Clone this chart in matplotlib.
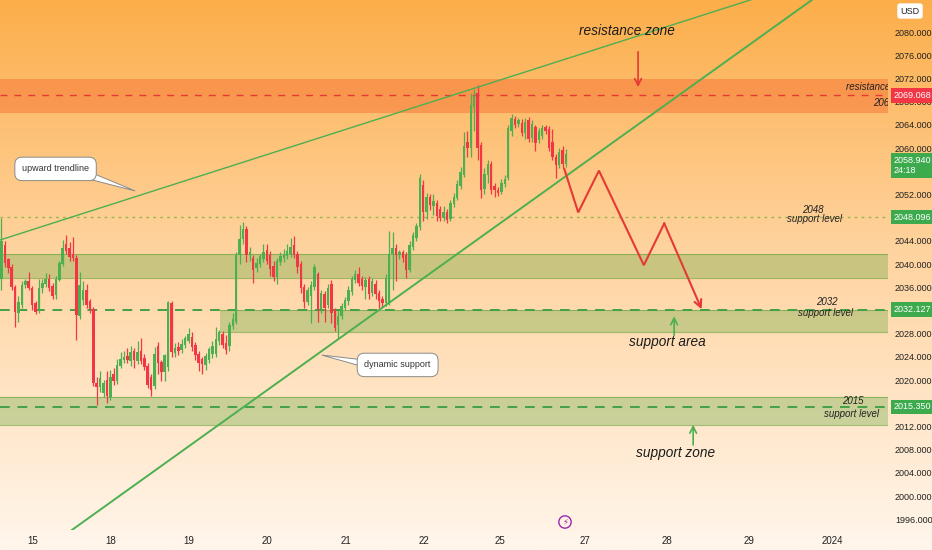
import numpy as np
import matplotlib
matplotlib.use("Agg")
import matplotlib.pyplot as plt
from matplotlib.colors import LinearSegmentedColormap
from matplotlib.patches import Polygon
import matplotlib.transforms as mtransforms

plt.rcParams['font.family'] = ['Liberation Sans', 'DejaVu Sans']

# XAUUSD 1h candles
opens = [2037.5, 2043.3, 2040.8, 2039.5, 2036.0, 2031.5, 2033.0, 2036.4, 2037.0, 2035.9,
         2033.2, 2032.0, 2035.8, 2036.6, 2037.5, 2036.2, 2034.6, 2037.3, 2040.0, 2043.5,
         2042.7, 2041.8, 2041.0, 2031.0, 2033.8, 2035.5, 2033.6, 2032.3, 2019.5, 2018.8,
         2017.8, 2020.0, 2017.0, 2021.0, 2019.8, 2022.4, 2023.4, 2024.2, 2023.3, 2025.0,
         2023.3, 2025.0, 2023.8, 2022.5, 2020.5, 2019.0, 2025.8, 2023.1, 2021.4, 2022.2,
         2033.3, 2024.6, 2025.7, 2025.1, 2026.0, 2026.8, 2027.5, 2026.0, 2024.5, 2023.6,
         2022.6, 2023.4, 2024.5, 2024.5, 2026.8, 2028.0, 2026.4, 2025.8, 2029.3, 2030.0,
         2041.5, 2044.3, 2046.0, 2041.5, 2041.0, 2039.3, 2040.0, 2040.8, 2042.5, 2041.5,
         2039.7, 2037.8, 2040.3, 2041.0, 2041.3, 2041.8, 2043.3, 2041.7, 2040.0, 2036.0,
         2033.4, 2034.5, 2036.0, 2038.2, 2032.2, 2034.8, 2033.0, 2036.5, 2032.0, 2029.5,
         2031.0, 2032.5, 2033.6, 2035.2, 2037.3, 2038.2, 2037.5, 2036.0, 2037.5, 2035.0,
         2036.6, 2035.0, 2034.0, 2033.2, 2033.3, 2041.8, 2042.8, 2041.5, 2042.0, 2041.5,
         2039.0, 2043.0, 2044.5, 2046.3, 2053.7, 2049.0, 2051.5, 2050.0, 2050.5, 2049.5,
         2048.0, 2049.0, 2047.8, 2050.3, 2051.4, 2053.4, 2055.4, 2061.0, 2060.0, 2067.0,
         2069.5, 2060.5, 2053.0, 2055.3, 2057.2, 2053.4, 2052.8, 2052.4, 2053.8, 2054.8,
         2063.0, 2065.0, 2064.2, 2064.3, 2062.6, 2064.8, 2061.8, 2063.6, 2061.4, 2062.0,
         2063.6, 2063.2, 2061.0, 2058.4, 2057.0, 2059.6, 2057.3]
highs = [2048.0, 2044.0, 2041.0, 2040.0, 2036.3, 2034.5, 2037.0, 2037.5, 2038.6, 2036.2,
         2033.6, 2037.5, 2037.5, 2038.5, 2038.3, 2036.7, 2038.0, 2040.6, 2044.1, 2045.0,
         2043.8, 2044.7, 2041.5, 2038.6, 2037.0, 2036.5, 2034.0, 2032.6, 2020.5, 2021.6,
         2020.0, 2021.5, 2021.7, 2022.0, 2023.7, 2024.8, 2025.0, 2025.5, 2025.8, 2025.5,
         2026.8, 2027.2, 2024.5, 2023.0, 2021.0, 2025.7, 2026.5, 2023.5, 2024.5, 2033.6,
         2033.6, 2026.4, 2026.5, 2027.0, 2027.6, 2029.0, 2028.2, 2026.5, 2025.0, 2024.0,
         2024.6, 2025.7, 2026.7, 2029.2, 2028.7, 2028.5, 2027.8, 2030.0, 2031.5, 2042.0,
         2046.7, 2047.3, 2046.5, 2043.0, 2041.6, 2041.0, 2041.8, 2043.5, 2043.5, 2042.2,
         2040.6, 2041.0, 2042.0, 2042.6, 2043.5, 2044.5, 2044.8, 2042.3, 2040.5, 2036.5,
         2036.0, 2037.0, 2040.0, 2038.6, 2035.5, 2035.3, 2036.5, 2037.2, 2032.5, 2032.0,
         2033.3, 2034.3, 2036.2, 2038.0, 2039.0, 2039.5, 2038.0, 2037.8, 2038.0, 2037.6,
         2037.3, 2035.5, 2034.4, 2038.2, 2045.7, 2045.5, 2043.5, 2042.5, 2042.5, 2042.0,
         2044.0, 2045.5, 2047.0, 2055.5, 2054.4, 2052.3, 2052.0, 2052.0, 2051.0, 2050.0,
         2050.0, 2049.5, 2051.0, 2052.2, 2054.5, 2056.8, 2062.8, 2063.0, 2069.5, 2070.2,
         2070.8, 2061.0, 2056.5, 2058.0, 2057.8, 2054.0, 2053.3, 2054.7, 2055.3, 2064.0,
         2065.8, 2065.5, 2065.2, 2065.0, 2065.2, 2065.3, 2064.8, 2064.0, 2063.5, 2064.0,
         2064.0, 2063.8, 2063.2, 2059.0, 2060.0, 2060.3, 2059.9]
lows = [2035.5, 2039.5, 2038.5, 2035.5, 2029.1, 2030.0, 2032.5, 2035.8, 2035.5, 2032.0,
        2031.3, 2031.5, 2035.0, 2036.0, 2035.3, 2034.0, 2034.0, 2037.0, 2039.7, 2041.8,
        2040.5, 2040.5, 2026.9, 2030.5, 2033.0, 2032.5, 2031.5, 2019.0, 2015.7, 2018.0,
        2017.0, 2016.0, 2016.5, 2019.2, 2019.3, 2022.0, 2022.9, 2022.9, 2022.5, 2022.0,
        2022.8, 2022.8, 2021.8, 2018.7, 2017.2, 2018.5, 2021.0, 2019.8, 2019.8, 2021.5,
        2024.0, 2024.0, 2024.3, 2024.6, 2025.5, 2026.3, 2025.0, 2023.5, 2021.5, 2021.0,
        2021.8, 2022.9, 2023.8, 2024.0, 2026.0, 2025.5, 2024.5, 2025.0, 2028.8, 2029.6,
        2040.0, 2043.5, 2040.3, 2040.5, 2036.7, 2038.6, 2039.5, 2040.3, 2040.0, 2038.0,
        2037.0, 2036.5, 2039.8, 2040.4, 2040.8, 2041.2, 2041.0, 2038.5, 2035.0, 2032.5,
        2033.0, 2029.8, 2035.5, 2030.0, 2031.5, 2030.0, 2032.5, 2029.8, 2028.5, 2027.3,
        2030.6, 2032.0, 2033.0, 2034.7, 2036.8, 2036.2, 2035.5, 2034.0, 2034.0, 2034.5,
        2034.0, 2032.4, 2032.5, 2032.8, 2033.0, 2035.5, 2037.0, 2040.8, 2040.3, 2037.6,
        2038.7, 2042.5, 2044.0, 2045.8, 2047.5, 2047.8, 2049.3, 2048.5, 2047.5, 2047.5,
        2047.4, 2047.0, 2047.5, 2049.8, 2051.0, 2053.0, 2055.0, 2058.5, 2058.5, 2063.0,
        2058.0, 2051.4, 2052.0, 2054.0, 2052.0, 2051.5, 2051.8, 2052.0, 2053.3, 2054.5,
        2062.0, 2063.5, 2063.6, 2062.0, 2061.5, 2061.0, 2061.0, 2059.5, 2060.8, 2061.5,
        2062.5, 2059.5, 2058.0, 2054.8, 2056.5, 2056.5, 2056.8]
closes = [2044.0, 2040.2, 2039.3, 2036.0, 2031.7, 2033.4, 2036.4, 2037.0, 2035.9, 2032.9,
          2031.8, 2035.8, 2036.8, 2037.5, 2035.8, 2034.5, 2037.5, 2040.2, 2042.8, 2042.3,
          2041.2, 2041.0, 2031.2, 2036.4, 2035.5, 2033.0, 2032.3, 2019.5, 2018.8, 2020.3,
          2019.4, 2017.2, 2020.6, 2019.8, 2022.6, 2023.6, 2024.0, 2023.4, 2024.9, 2023.5,
          2024.9, 2023.3, 2022.3, 2019.2, 2018.2, 2024.5, 2023.0, 2021.4, 2024.3, 2033.4,
          2024.8, 2025.5, 2025.0, 2026.2, 2027.2, 2028.0, 2025.7, 2024.3, 2022.9, 2022.8,
          2024.2, 2025.3, 2025.8, 2027.0, 2028.2, 2026.0, 2025.2, 2029.5, 2030.5, 2041.5,
          2044.3, 2046.0, 2041.5, 2042.0, 2039.0, 2040.2, 2041.3, 2042.0, 2040.5, 2039.2,
          2037.7, 2040.5, 2041.4, 2041.8, 2042.3, 2043.0, 2041.5, 2039.5, 2035.9, 2033.4,
          2035.5, 2036.4, 2039.5, 2032.2, 2035.0, 2032.5, 2035.8, 2031.5, 2029.0, 2031.0,
          2032.8, 2033.8, 2035.6, 2037.5, 2038.3, 2036.7, 2036.2, 2037.2, 2034.8, 2037.0,
          2034.8, 2033.6, 2033.2, 2037.6, 2041.8, 2042.8, 2041.5, 2042.0, 2041.0, 2039.0,
          2043.3, 2045.0, 2046.5, 2054.8, 2049.0, 2051.5, 2050.2, 2050.8, 2048.3, 2048.0,
          2049.0, 2047.6, 2050.5, 2051.6, 2053.8, 2055.8, 2060.3, 2060.0, 2067.4, 2069.0,
          2060.0, 2052.8, 2055.5, 2057.3, 2052.8, 2052.7, 2052.3, 2054.0, 2054.6, 2063.4,
          2065.2, 2064.0, 2064.8, 2062.6, 2064.5, 2061.6, 2064.2, 2060.9, 2062.9, 2063.5,
          2063.0, 2060.0, 2058.5, 2057.0, 2059.3, 2057.2, 2058.9]

# day labels on the time axis (candle index where each day starts)
day_pos = [9.3, 32.2, 55.1, 78.1, 101.3, 124.3, 146.6, 171.6, 195.7, 219.9, 244.3]
day_labels = ['15', '18', '19', '20', '21', '22', '25', '27', '28', '29', '2024']

# drawings: (candle index, price)
upper_trend = [(-0.44, 2044.14), (146.6, 2071.72)]
lower_trend = [(20.7, 1994.14), (176.0, 2059.36)]
zigzag_x = [165.5, 169.6, 175.7, 188.9, 194.9, 205.9]
zigzag_y = [2056.4, 2048.9, 2056.1, 2039.8, 2047.0, 2032.2]

resistance_zone = (2066.0, 2071.9)
support_zones = [(-1, 2037.6, 2041.7), (64.3, 2028.3, 2032.1), (-1, 2012.2, 2017.1)]
resistance_level = 2069.068
support_levels = [2048.096, 2032.127, 2015.350]
last_price = 2058.940

UP = '#4CAF50'
DOWN = '#F23645'
GREEN = '#43A047'

W, H = 932, 550
fig = plt.figure(figsize=(W / 100, H / 100), dpi=100)

# background gradient over the whole picture
bg = fig.add_axes([0, 0, 1, 1])
cmap = LinearSegmentedColormap.from_list(
    'bg', [(0.0, '#FCAE4A'), (0.45, '#FFD39E'), (1.0, '#FFF6EC')])
bg.imshow(np.linspace(0, 1, 256).reshape(-1, 1), aspect='auto', cmap=cmap,
          extent=[0, 1, 0, 1])
bg.axis('off')

ax = fig.add_axes([0, 20 / H, 888 / W, 530 / H])
ax.set_facecolor('none')
for s in ax.spines.values():
    s.set_visible(False)

x_lo, x_hi = -0.44, 260.7
y_lo, y_hi = 1994.14, 2085.52
ax.set_xlim(x_lo, x_hi)
ax.set_ylim(y_lo, y_hi)

# zones
ax.axhspan(resistance_zone[0], resistance_zone[1], color='#F4511E', alpha=0.35,
           lw=0, zorder=1)
for x0, lo, hi in support_zones:
    ax.fill_between([x0, x_hi], lo, hi, color='#66A840', alpha=0.35, lw=0, zorder=1)
    ax.plot([x0, x_hi], [lo, lo], color='#5FA33A', lw=0.8, alpha=0.6, zorder=1)
    ax.plot([x0, x_hi], [hi, hi], color='#5FA33A', lw=0.8, alpha=0.6, zorder=1)

ax.axhline(resistance_level, color='#E53935', lw=1.0, dashes=(5, 5), zorder=2)
ax.axhline(support_levels[0], color='#7CB342', lw=1.0, dashes=(2, 3), alpha=0.8, zorder=2)
ax.axhline(support_levels[1], color=GREEN, lw=1.4, dashes=(5, 4), zorder=2)
ax.axhline(support_levels[2], color=GREEN, lw=1.4, dashes=(5, 4), zorder=2)

# candles
x = np.arange(len(closes))
o = np.array(opens)
c = np.array(closes)
cols = np.where(c >= o, UP, DOWN)
ax.vlines(x, lows, highs, colors=cols, lw=0.9, zorder=3)
body = np.where(np.abs(c - o) < 0.25, 0.25, c - o)
ax.bar(x, body, bottom=o, width=0.72, color=cols, lw=0, zorder=4)

# trendlines extended through the frame
def extend(p, q):
    (x1, y1), (x2, y2) = p, q
    k = (y2 - y1) / (x2 - x1)
    return [x1, x_hi], [y1, y1 + k * (x_hi - x1)]

ux, uy = extend(*upper_trend)
ax.plot(ux, uy, color=UP, lw=1.0, zorder=5)
lx, ly = extend(*lower_trend)
ax.plot(lx, ly, color=UP, lw=1.4, zorder=5)

# projected path
ax.plot(zigzag_x[:-1], zigzag_y[:-1], color='#E53935', lw=1.5, zorder=6,
        solid_joinstyle='miter')
ax.annotate('', xy=(zigzag_x[-1], zigzag_y[-1]), xytext=(zigzag_x[-2], zigzag_y[-2]),
            arrowprops=dict(arrowstyle='->', color='#E53935', lw=1.5,
                            mutation_scale=13, shrinkA=0, shrinkB=0), zorder=6)

# arrows
arr = dict(arrowstyle='->', lw=1.2, mutation_scale=12, shrinkA=0, shrinkB=0)
ax.annotate('', xy=(187.2, 2070.5), xytext=(187.2, 2076.6),
            arrowprops=dict(color='#E53935', **arr))
ax.annotate('', xy=(197.8, 2031.0), xytext=(197.8, 2027.7),
            arrowprops=dict(color=UP, **arr))
ax.annotate('', xy=(203.4, 2012.3), xytext=(203.4, 2008.8),
            arrowprops=dict(color=UP, **arr))

# texts
big = dict(fontsize=9.8, style='italic', color='#1B1B1B', ha='center', va='center',
           zorder=8)
ax.text(184.0, 2080.2, 'resistance zone', **big)
ax.text(195.7, 2026.5, 'support area', **big)
ax.text(198.1, 2007.4, 'support zone', **big)

small = dict(fontsize=7, style='italic', color='#222222', ha='center', va='center',
             zorder=8)
ax.text(238.7, 2049.3, '2048', **small)
ax.text(239.0, 2047.7, 'support level', **small)
ax.text(242.8, 2033.5, '2032', **small)
ax.text(242.2, 2031.5, 'support level', **small)
ax.text(250.4, 2016.4, '2015', **small)
ax.text(249.9, 2014.1, 'support level', **small)
ax.text(248.4, 2070.5, 'resistance level', fontsize=7, style='italic',
        color='#222222', ha='left', va='center', clip_on=True, zorder=8)
ax.text(256.3, 2067.8, '2069', fontsize=7, style='italic',
        color='#222222', ha='left', va='center', clip_on=True, zorder=8)

# callouts
def callout(tx, ty, text, tail):
    ax.add_patch(Polygon(tail, closed=True, fc='white', ec='#8A8A8A', lw=0.7,
                         zorder=8))
    ax.text(tx, ty, text, fontsize=6.5, color='#333333', ha='center', va='center',
            zorder=9, bbox=dict(boxstyle='round,pad=0.8,rounding_size=0.8',
                                fc='white', ec='#8A8A8A', lw=0.7))

callout(15.9, 2056.4, 'upward trendline',
        [(22.0, 2055.2), (24.6, 2054.8), (39.3, 2052.6), (25.8, 2055.9)])
callout(116.5, 2022.6, 'dynamic support',
        [(107.5, 2023.4), (94.2, 2024.3), (107.5, 2022.1)])

# axes ticks
ax.yaxis.tick_right()
ax.set_yticks(np.arange(1996, 2081, 4))
ax.set_yticklabels([f'{v:.3f}' for v in np.arange(1996, 2081, 4)])
ax.tick_params(axis='y', length=0, pad=5, labelsize=6.5, labelcolor='#222222')
ax.set_xticks(day_pos)
ax.set_xticklabels(day_labels)
ax.tick_params(axis='x', length=0, pad=4, labelsize=7, labelcolor='#222222')

# price tags on the scale
tr = mtransforms.blended_transform_factory(ax.transAxes, ax.transData)
def tag(price, text, color):
    ax.text(1.006, price, text, transform=tr, ha='left', va='center', fontsize=6.5,
            color='white', clip_on=False, zorder=20,
            bbox=dict(boxstyle='square,pad=0.3', fc=color, ec='none'))

tag(resistance_level, f'{resistance_level:.3f}', '#F23645')
tag(last_price - 2.0, f'{last_price:.3f}\n24:18', '#3DAA4E')
for lvl in support_levels:
    tag(lvl, f'{lvl:.3f}', '#3DAA4E')

fig.text(910 / W, 1 - 11 / H, 'USD', fontsize=6.5, color='#222222', ha='center',
         va='center', bbox=dict(boxstyle='round,pad=0.35,rounding_size=0.3',
                                fc='white', ec='none'))

# replay icon near the time axis
fig.text(565 / W, 1 - 522 / H, '\u26a1', fontsize=6, color='#9C27B0', ha='center',
         va='center', family='DejaVu Sans',
         bbox=dict(boxstyle='circle,pad=0.2', fc='none', ec='#9C27B0', lw=1))

fig.savefig('out.png', dpi=100)
